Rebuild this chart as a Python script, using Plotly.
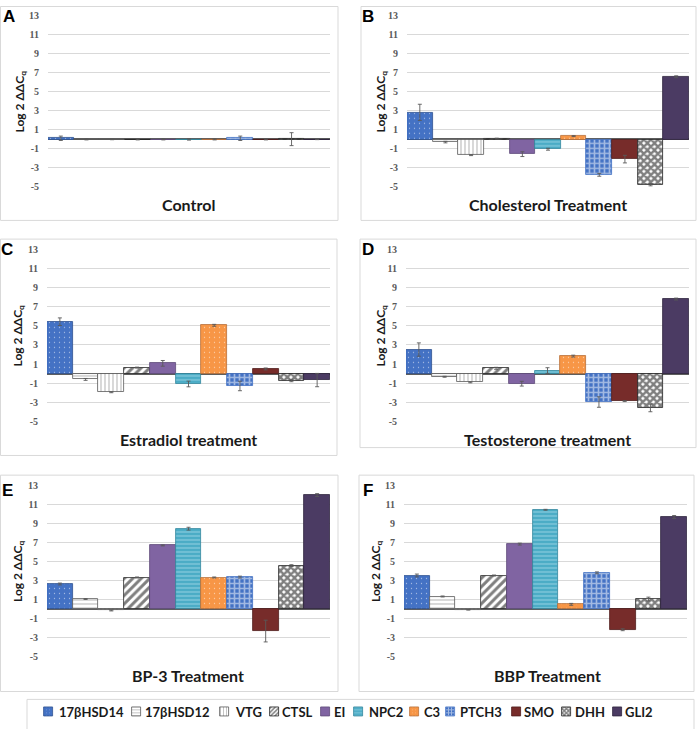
import plotly.graph_objects as go

W, H = 699, 729

# ---------------- data ----------------
genes = ["17βHSD14", "17βHSD12", "VTG", "CTSL", "EI", "NPC2", "C3", "PTCH3", "SMO", "DHH", "GLI2"]
panel_titles = ["Control", "Cholesterol Treatment", "Estradiol treatment",
                "Testosterone treatment", "BP-3 Treatment", "BBP Treatment"]
panel_letters = ["A", "B", "C", "D", "E", "F"]
y_tick_vals = [-5, -3, -1, 1, 3, 5, 7, 9, 11, 13]
y_tick_labels = ["-5", "-3", "-1", "1", "3", "5", "7", "9", "11", "13"]

control_vals = [0.12, 0.0, 0.0, 0.0, 0.0, 0.0, 0.0, 0.12, 0.0, 0.03, 0.0]
control_err = [0.23, 0.05, 0.03, 0.05, 0.05, 0.07, 0.05, 0.23, 0.05, 0.68, 0.02]

cholesterol_vals = [2.85, -0.28, -1.65, 0.08, -1.55, -1.03, 0.35, -3.72, -2.07, -4.76, 6.59]
cholesterol_err = [0.85, 0.08, 0.05, 0.05, 0.25, 0.1, 0.05, 0.15, 0.4, 0.12, 0.1]

estradiol_vals = [5.45, -0.62, -1.97, 0.62, 1.07, -1.1, 5.07, -1.31, 0.48, -0.76, -0.69]
estradiol_err = [0.4, 0.1, 0.05, 0.05, 0.3, 0.3, 0.1, 0.5, 0.1, 0.1, 0.7]

testosterone_vals = [2.52, -0.34, -0.93, 0.55, -1.07, 0.31, 1.83, -3.0, -2.9, -3.62, 7.83]
testosterone_err = [0.7, 0.05, 0.05, 0.1, 0.25, 0.3, 0.1, 0.55, 0.05, 0.4, 0.1]

bp3_vals = [2.63, 1.04, -0.17, 3.32, 6.71, 8.48, 3.32, 3.36, -2.35, 4.57, 12.04]
bp3_err = [0.1, 0.05, 0.05, 0.05, 0.05, 0.15, 0.05, 0.1, 1.15, 0.1, 0.15]

bbp_vals = [3.53, 1.31, -0.1, 3.53, 6.85, 10.48, 0.48, 3.81, -2.21, 1.04, 9.72]
bbp_err = [0.15, 0.05, 0.03, 0.05, 0.1, 0.05, 0.1, 0.1, 0.1, 0.2, 0.15]

panel_vals = [control_vals, cholesterol_vals, estradiol_vals, testosterone_vals, bp3_vals, bbp_vals]
panel_errs = [control_err, cholesterol_err, estradiol_err, testosterone_err, bp3_err, bbp_err]

# ---------------- styles ----------------
# (shape, fgcolor, bgcolor, size, solidity, outline)
gene_style = [
    (".", "#FFFFFF", "#4472C4", 5, 0.05, "#2F528F"),   # 17bHSD14
    ("-", "#7F7F7F", "#FFFFFF", 4, 0.3, "#595959"),    # 17bHSD12
    ("|", "#7F7F7F", "#FFFFFF", 4, 0.3, "#595959"),    # VTG
    ("/", "#000000", "#FFFFFF", 6, 0.5, "#262626"),    # CTSL
    ("", None, None, None, None, "#5E4A7A"),           # EI
    ("-", "#A8DCEA", "#4BACC6", 4, 0.4, "#31859C"),    # NPC2
    (".", "#FFFFFF", "#F79646", 5, 0.05, "#B7703A"),   # C3
    ("+", "#FFFFFF", "#4472C4", 5, 0.55, "#4472C4"),   # PTCH3
    ("", None, None, None, None, "#4F1D1C"),           # SMO
    ("x", "#000000", "#FFFFFF", 5, 0.72, "#262626"),   # DHH
    ("", None, None, None, None, "#2E243D"),           # GLI2
]
solid_colors = ["#4472C4", "#FFFFFF", "#FFFFFF", "#FFFFFF", "#8064A2", "#4BACC6",
                "#F79646", "#FFFFFF", "#772C2A", "#FFFFFF", "#4B3B63"]

# pixel layout (left, right, top, bottom)
plot_px = [(48, 330, 10, 184), (407, 689, 10, 184),
           (47, 330, 248, 422), (406, 689, 248, 422),
           (47, 330, 488, 661), (404, 687, 488, 661)]
frame_px = [(0.5, 338, 0.5, 218), (361, 696, 0.5, 218),
            (0.5, 337, 237, 457), (360, 696, 237, 449),
            (0.5, 338, 477, 697), (359, 694, 477, 697)]
title_pos = [(188, 202), (548, 202), (188, 441), (547, 441), (188, 681), (547, 681)]
ytitle_x = [20, 381, 18, 381, 18, 376]
letter_pos = [(9, 11), (368, 11), (7, 248), (368, 248), (7, 493), (368, 493)]

TEXT_FONT = "Lato"
TICK_FONT = "Liberation Serif"


def px_x(v):
    return v / W


def px_y(v):
    return 1 - v / H


def marker_for(j, icon=False):
    shape, fg, bg, size, sol, outline = gene_style[j]
    m = dict(color=solid_colors[j], line=dict(color=outline, width=0.8))
    if shape:
        m["pattern"] = dict(shape=shape, fgcolor=fg, bgcolor=bg,
                            size=(3 if icon else size), solidity=sol)
    return m


fig = go.Figure()
annotations = []
shapes = []

for i in range(6):
    ax = "" if i == 0 else str(i + 1)
    for j, g in enumerate(genes):
        fig.add_trace(go.Bar(
            x=[g], y=[panel_vals[i][j]],
            xaxis="x" + ax, yaxis="y" + ax,
            marker=marker_for(j),
            error_y=dict(type="data", array=[panel_errs[i][j]], color="#595959",
                         thickness=0.9, width=2),
            name=g, showlegend=False, hoverinfo="x+y",
        ))
    l, r, t, b = plot_px[i]
    fig.layout["xaxis" + ax] = dict(
        domain=[px_x(l), px_x(r)], anchor="y" + ax, showticklabels=False,
        showgrid=False, zeroline=False, showline=False, ticks="",
        range=[-0.5, 10.5], categoryorder="array", categoryarray=genes,
    )
    fig.layout["yaxis" + ax] = dict(
        domain=[px_y(b), px_y(t)], anchor="x" + ax, range=[-5, 13],
        tickvals=y_tick_vals, ticktext=y_tick_labels,
        showgrid=True, gridcolor="#D9D9D9", gridwidth=1,
        zeroline=True, zerolinecolor="#5F5F5F", zerolinewidth=1.5,
        showline=False, ticks="", ticklabelstandoff=8,
        tickfont=dict(family=TICK_FONT, size=10, color="#595959", weight="bold"),
    )
    fl, fr, ft, fb = frame_px[i]
    shapes.append(dict(type="rect", xref="paper", yref="paper",
                       x0=px_x(fl), x1=px_x(fr), y0=px_y(fb), y1=px_y(ft),
                       line=dict(color="#D9D9D9", width=1), layer="below"))
    tx, ty = title_pos[i]
    annotations.append(dict(text=panel_titles[i], xref="paper", yref="paper",
                            x=px_x(tx), y=px_y(ty), showarrow=False,
                            xanchor="center", yanchor="middle",
                            font=dict(family=TEXT_FONT, size=16, color="#1A1A1A", weight="bold")))
    annotations.append(dict(text="Log 2 ΔΔC<sub>q</sub>", xref="paper", yref="paper",
                            x=px_x(ytitle_x[i]), y=px_y((t + b) / 2), showarrow=False,
                            textangle=-90, xanchor="center", yanchor="middle",
                            font=dict(family=TEXT_FONT, size=12, color="#1A1A1A", weight="bold")))
    lx, ly = letter_pos[i]
    annotations.append(dict(text=panel_letters[i], xref="paper", yref="paper",
                            x=px_x(lx), y=px_y(ly), showarrow=False,
                            xanchor="center", yanchor="middle",
                            font=dict(family="Liberation Sans", size=17, color="#000000", weight="bold")))

# ---------------- custom legend ----------------
legend_icon_x = [48, 136, 224, 274, 325, 358, 414, 450, 516, 566, 617]
legend_text_x = [57, 143, 233, 280, 332, 367, 422, 458, 522, 573, 623]
for j, g in enumerate(genes):
    fig.add_trace(go.Bar(
        x=[legend_icon_x[j]], y=[9], base=[5.5], width=[9],
        xaxis="x7", yaxis="y7", marker=marker_for(j, icon=True),
        name=g, showlegend=False, hoverinfo="skip",
    ))
    annotations.append(dict(text=g, xref="x7", yref="y7", x=legend_text_x[j], y=10,
                            showarrow=False, xanchor="left", yanchor="middle",
                            font=dict(family=TEXT_FONT, size=13, color="#1A1A1A", weight="bold")))
fig.layout["xaxis7"] = dict(domain=[0, 1], range=[0, W], anchor="y7", visible=False)
fig.layout["yaxis7"] = dict(domain=[px_y(728), px_y(708)], range=[0, 20], anchor="x7", visible=False)
shapes.append(dict(type="rect", xref="paper", yref="paper",
                   x0=px_x(27), x1=px_x(694), y0=px_y(740), y1=px_y(705),
                   line=dict(color="#D9D9D9", width=1), layer="below"))

fig.update_layout(
    width=W, height=H, margin=dict(l=0, r=0, t=0, b=0),
    paper_bgcolor="white", plot_bgcolor="white",
    barmode="overlay", bargap=0,
    annotations=annotations, shapes=shapes,
    showlegend=False,
)

fig.write_html("out.html", config={"displayModeBar": False},
               post_script="document.body.style.margin='0';")
